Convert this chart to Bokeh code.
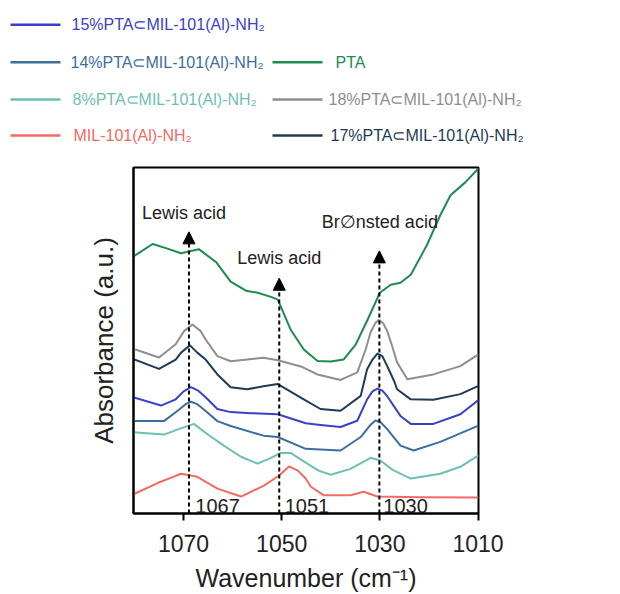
from bokeh.plotting import figure
from bokeh.models import Range1d, FixedTicker, Arrow, NormalHead, ColumnDataSource
from bokeh.core.properties import value
from bokeh.embed import file_html
from bokeh.resources import INLINE

FONT = "Liberation Sans"

# ---------------- data (wavenumber cm-1, absorbance a.u.) ----------------
pta_x = [1080.3, 1076.3, 1073.6, 1070.5, 1066.9, 1063.4, 1060.4, 1057.3, 1054.9, 1052.2, 1050.8,
         1048.2, 1045.5, 1042.7, 1040.0, 1037.4, 1034.9, 1032.5, 1030.0, 1027.8, 1025.8, 1023.7,
         1020.4, 1017.7, 1015.6, 1012.6, 1009.9]
pta_y = [74.2, 77.9, 76.7, 75.2, 76.4, 72.7, 67.0, 64.4, 63.8, 62.6, 61.8,
         53.2, 47.4, 44.1, 43.9, 44.5, 48.9, 56.0, 63.8, 66.1, 66.7, 69.0,
         77.6, 86.2, 92.0, 95.7, 99.7]

s18_x = [1080.3, 1075.0, 1071.6, 1069.9, 1068.2, 1066.5, 1065.5, 1063.1, 1060.4, 1057.0, 1053.7,
         1050.8, 1046.1, 1042.7, 1038.0, 1034.6, 1032.9, 1031.9, 1030.9, 1030.2, 1029.3, 1028.5,
         1027.5, 1026.5, 1024.4, 1019.1, 1013.6, 1009.9]
s18_y = [47.6, 45.1, 48.9, 52.7, 54.6, 52.7, 50.3, 45.5, 44.0, 44.5, 45.0,
         44.3, 42.5, 40.2, 38.6, 40.8, 47.4, 52.3, 55.1, 55.9, 54.9, 52.7,
         48.4, 43.7, 38.8, 40.2, 42.6, 46.0]

s17_x = [1080.3, 1075.0, 1071.6, 1070.5, 1068.7, 1067.2, 1065.5, 1063.1, 1060.4, 1057.0, 1053.7,
         1050.8, 1045.5, 1042.1, 1038.0, 1033.9, 1032.6, 1031.5, 1030.5, 1029.5, 1028.5, 1027.1,
         1026.5, 1023.7, 1019.1, 1013.6, 1009.9]
s17_y = [44.7, 41.8, 44.5, 46.5, 48.6, 46.5, 44.5, 40.2, 36.5, 35.9, 36.8,
         37.4, 33.0, 30.2, 29.7, 34.0, 41.7, 44.5, 46.2, 45.5, 42.6, 38.3,
         35.9, 33.0, 32.9, 34.5, 36.9]

s15_x = [1080.3, 1074.6, 1071.6, 1070.0, 1068.5, 1067.0, 1065.5, 1063.1, 1060.4, 1056.3, 1050.8,
         1045.1, 1042.1, 1038.0, 1034.6, 1032.6, 1031.5, 1030.5, 1029.5, 1028.5, 1025.8, 1023.7,
         1019.1, 1013.6, 1009.9]
s15_y = [33.6, 31.2, 33.0, 35.3, 36.5, 35.5, 33.6, 30.2, 29.3, 29.0, 28.7,
         26.1, 25.6, 25.0, 26.8, 33.0, 35.3, 36.1, 35.5, 33.9, 28.2, 25.9,
         25.9, 28.7, 32.8]

s14_x = [1080.3, 1074.0, 1071.0, 1069.6, 1068.5, 1067.2, 1065.5, 1063.1, 1060.4, 1053.7, 1050.8,
         1045.1, 1042.1, 1038.0, 1033.9, 1032.0, 1030.9, 1029.8, 1028.5, 1025.8, 1023.1, 1017.7,
         1009.9]
s14_y = [26.7, 26.7, 29.9, 31.6, 32.3, 31.6, 29.6, 26.7, 25.3, 22.5, 22.1,
         18.7, 18.5, 18.2, 22.1, 25.5, 26.9, 26.3, 24.4, 19.6, 18.2, 20.7,
         25.4]

s8_x = [1080.3, 1074.0, 1071.0, 1067.9, 1064.9, 1061.8, 1058.3, 1054.9, 1052.2, 1050.2, 1048.2,
        1045.1, 1042.5, 1040.0, 1036.0, 1031.9, 1029.9, 1027.4, 1023.7, 1017.7, 1013.6, 1009.9]
s8_y = [23.5, 22.8, 24.4, 25.9, 22.7, 19.6, 16.4, 14.4, 16.1, 17.5, 17.5,
        14.7, 12.4, 11.2, 12.9, 16.1, 15.3, 12.6, 10.1, 11.5, 13.5, 16.8]

mil_x = [1080.3, 1075.3, 1072.6, 1070.5, 1067.2, 1064.4, 1063.1, 1058.3, 1053.7, 1050.6, 1048.5,
         1046.7, 1045.1, 1044.1, 1041.5, 1036.0, 1033.3, 1030.5, 1021.7, 1009.9]
mil_y = [5.5, 8.8, 10.3, 11.5, 10.6, 8.3, 7.2, 4.9, 8.0, 10.9, 13.6,
         12.4, 10.1, 7.8, 5.3, 5.3, 6.3, 4.9, 4.7, 4.6]

series_names = ["15%PTA\u2282MIL-101(Al)-NH\u2082", "14%PTA\u2282MIL-101(Al)-NH\u2082",
                "8%PTA\u2282MIL-101(Al)-NH\u2082", "MIL-101(Al)-NH\u2082", "PTA",
                "18%PTA\u2282MIL-101(Al)-NH\u2082", "17%PTA\u2282MIL-101(Al)-NH\u2082"]
series_colors = ["#3a40c8", "#3d6e9e", "#6dbfb2", "#f26b63", "#1e8b4f", "#8e8e8e", "#1e3a56"]
series_x = [s15_x, s14_x, s8_x, mil_x, pta_x, s18_x, s17_x]
series_y = [s15_y, s14_y, s8_y, mil_y, pta_y, s18_y, s17_y]

x_ticks = [1070, 1050, 1030, 1010]

peak_pos = [1068.9, 1050.5, 1030.1]
peak_tip = [81.4, 68.0, 75.9]
peak_labels = ["1067", "1051", "1030"]
peak_label_x = [1067.6, 1049.4, 1029.3]
peak_label_y = [2.2, 2.2, 2.2]

acid_labels = ["Lewis acid", "Lewis acid", "Br\u2205nsted acid"]
acid_x = [1069.9, 1050.5, 1030.0]
acid_y = [86.8, 73.8, 84.3]

# ---------------- legend panel (its own small figure, pixel-like coordinates) ----------------
LW, LH = 620, 150
leg = figure(width=LW, height=LH, x_range=Range1d(0, LW), y_range=Range1d(LH, 0),
             toolbar_location=None, output_backend="svg", min_border=0)
leg.axis.visible = False
leg.grid.visible = False
leg.outline_line_color = None

leg_line_x0 = [10, 10, 10, 10, 272, 272, 272]
leg_line_x1 = [60, 60, 60, 60, 322, 322, 322]
leg_text_x = [71, 70, 72, 73, 335, 328, 330]
leg_row_y = [24.3, 61.7, 99.0, 135.0, 61.7, 99.0, 135.0]

leg_src = ColumnDataSource(dict(x0=leg_line_x0, x1=leg_line_x1, tx=leg_text_x, y=leg_row_y,
                                name=series_names, color=series_colors))
leg.segment(x0="x0", y0="y", x1="x1", y1="y", line_color="color", line_width=2.5, source=leg_src)
leg.text(x="tx", y="y", text="name", text_color="color", text_font=value(FONT),
         text_font_size="16px", text_align="left", text_baseline="middle", source=leg_src)

# ---------------- main figure ----------------
p = figure(width=620, height=594 - LH, x_range=Range1d(1080.2, 1009.9), y_range=Range1d(0, 100),
           toolbar_location=None, output_backend="svg",
           min_border_left=133, min_border_right=142, min_border_top=17, min_border_bottom=79)
p.grid.visible = False
p.outline_line_color = "black"
p.outline_line_width = 2

for xs, ys, c in zip(series_x, series_y, series_colors):
    p.line(xs, ys, line_color=c, line_width=2, line_join="round")

for xp, tip in zip(peak_pos, peak_tip):
    p.add_layout(Arrow(end=NormalHead(size=12, fill_color="black", line_color="black"),
                       x_start=xp, y_start=0, x_end=xp, y_end=tip,
                       line_color="black", line_width=2, line_dash="4 3"))

p.text(x=peak_label_x, y=peak_label_y, text=peak_labels, text_font=value(FONT),
       text_font_size="20px", text_align="left", text_baseline="middle", text_color="#222222")
p.text(x=acid_x, y=acid_y, text=acid_labels, text_font=value(FONT),
       text_font_size="18px", text_align="center", text_baseline="middle", text_color="#222222")

xa = p.xaxis[0]
xa.ticker = FixedTicker(ticks=x_ticks)
xa.minor_tick_line_color = None
xa.major_tick_in = 0
xa.major_tick_out = 7
xa.major_tick_line_width = 2
xa.axis_line_width = 2
xa.major_label_text_font = FONT
xa.major_label_text_font_size = "23px"
xa.major_label_text_color = "#222222"
xa.major_label_standoff = 14
xa.axis_label = "Wavenumber (cm\u207b\u00b9)"
xa.axis_label_text_font = FONT
xa.axis_label_text_font_size = "25px"
xa.axis_label_text_font_style = "normal"
xa.axis_label_text_color = "#222222"
xa.axis_label_standoff = 9

ya = p.yaxis[0]
ya.ticker = FixedTicker(ticks=[])
ya.minor_tick_line_color = None
ya.major_tick_line_color = None
ya.axis_line_width = 2
ya.axis_label = "Absorbance (a.u.)"
ya.axis_label_text_font = FONT
ya.axis_label_text_font_size = "26px"
ya.axis_label_text_font_style = "normal"
ya.axis_label_text_color = "#222222"
ya.axis_label_standoff = 15

open("out.html", "w").write(file_html([leg, p], INLINE))
